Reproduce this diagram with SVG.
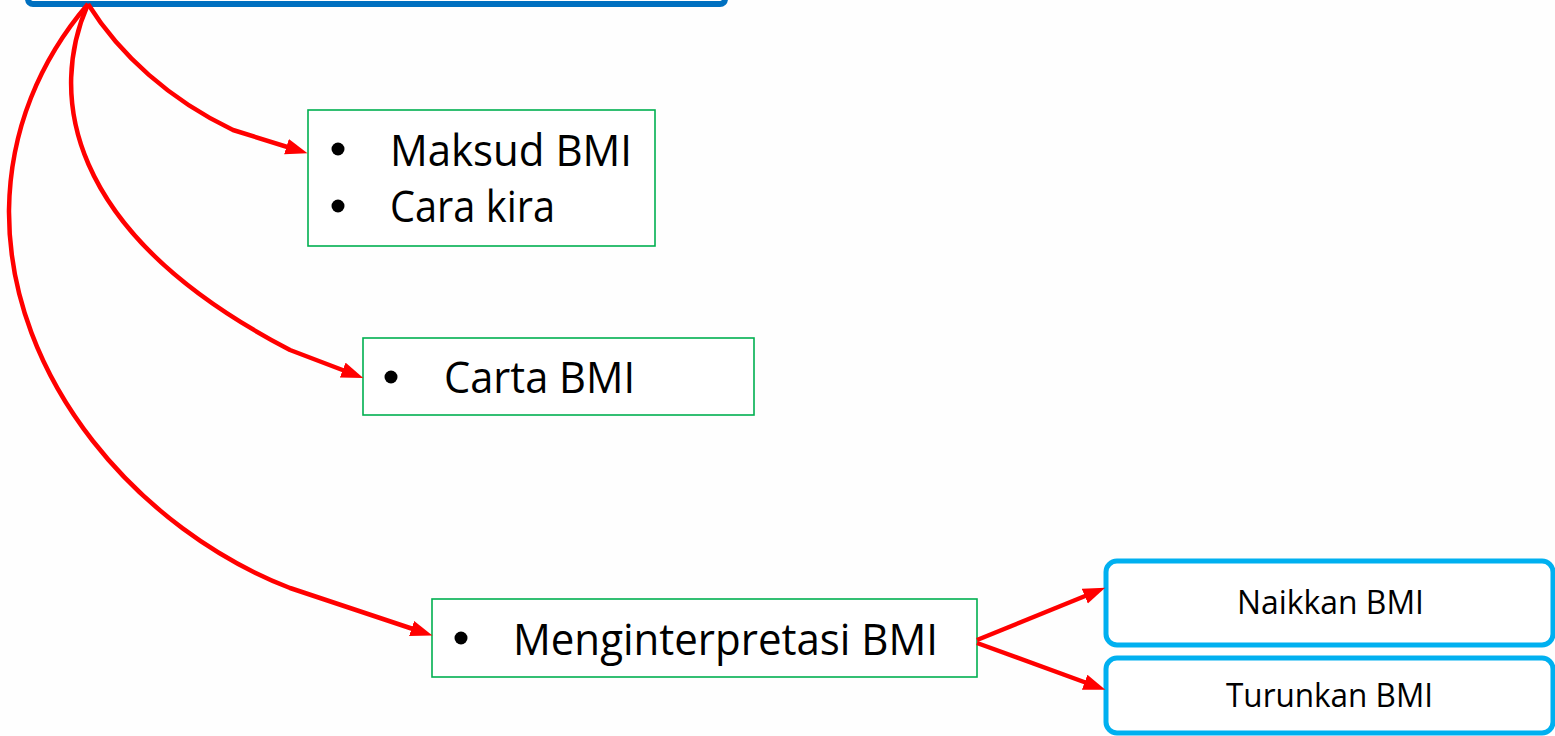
<svg xmlns="http://www.w3.org/2000/svg" width="1555" height="736" viewBox="0 0 1555 736">
  <style>
    .txt { font-family: "Open Sans", "Noto Sans", sans-serif; fill: #000; }
    .big { font-size: 44px; }
    .small { font-size: 32px; }
    .green { fill: #fff; stroke: #00B050; stroke-width: 1.6; }
    .cyan { fill: #fff; stroke: #00B0F0; stroke-width: 5; }
    .link { fill: none; stroke: #FF0000; stroke-width: 4.5; stroke-linejoin: round; }
  </style>
  <defs>
    <marker id="arrow" markerUnits="userSpaceOnUse" markerWidth="26" markerHeight="18" refX="11" refY="8" orient="auto">
      <path d="M0,0 L22,8 L0,16 z" fill="#FF0000"/>
    </marker>
  </defs>

  <rect width="1555" height="736" fill="#FEFEFE"/>

  <!-- title box, mostly above the top edge -->
  <g id="node-title">
    <rect x="28" y="-40" width="697" height="44" rx="5" fill="#fff" stroke="#0070C0" stroke-width="6"/>
  </g>

  <g id="node-maksud">
    <rect class="green" x="308" y="110" width="347" height="136"/>
    <circle cx="338" cy="149" r="6.5"/>
    <text class="txt big" x="390" y="166" textLength="242" lengthAdjust="spacingAndGlyphs">Maksud BMI</text>
    <circle cx="338" cy="206" r="6.5"/>
    <text class="txt big" x="390" y="222" textLength="165" lengthAdjust="spacingAndGlyphs">Cara kira</text>
  </g>

  <g id="node-carta">
    <rect class="green" x="363" y="338" width="391" height="77"/>
    <circle cx="391" cy="377" r="6.5"/>
    <text class="txt big" x="444" y="393" textLength="191" lengthAdjust="spacingAndGlyphs">Carta BMI</text>
  </g>

  <g id="node-interpretasi">
    <rect class="green" x="432" y="599" width="545" height="78"/>
    <circle cx="461" cy="638" r="6.5"/>
    <text class="txt big" x="513" y="655" textLength="425" lengthAdjust="spacingAndGlyphs">Menginterpretasi BMI</text>
  </g>

  <g id="node-naikkan">
    <rect class="cyan" x="1106" y="561" width="447" height="84" rx="11"/>
    <text class="txt small" x="1237" y="614" textLength="187" lengthAdjust="spacingAndGlyphs">Naikkan BMI</text>
  </g>

  <g id="node-turunkan">
    <rect class="cyan" x="1106" y="658" width="447" height="75" rx="11"/>
    <text class="txt small" x="1226" y="707" textLength="207" lengthAdjust="spacingAndGlyphs">Turunkan BMI</text>
  </g>

  <g id="connectors">
    <path class="link" d="M88,4 C120,55 170,100 233,130 L297,150" marker-end="url(#arrow)"/>
    <path class="link" d="M88,4 C50,90 60,230 290,350 L353,374" marker-end="url(#arrow)"/>
    <path class="link" d="M88,4 C40,60 10,130 9,210 C8,380 140,530 290,588 L422,632" marker-end="url(#arrow)"/>
    <path class="link" d="M977,640 L1095,592" marker-end="url(#arrow)"/>
    <path class="link" d="M977,643 L1095,686" marker-end="url(#arrow)"/>
  </g>
</svg>
